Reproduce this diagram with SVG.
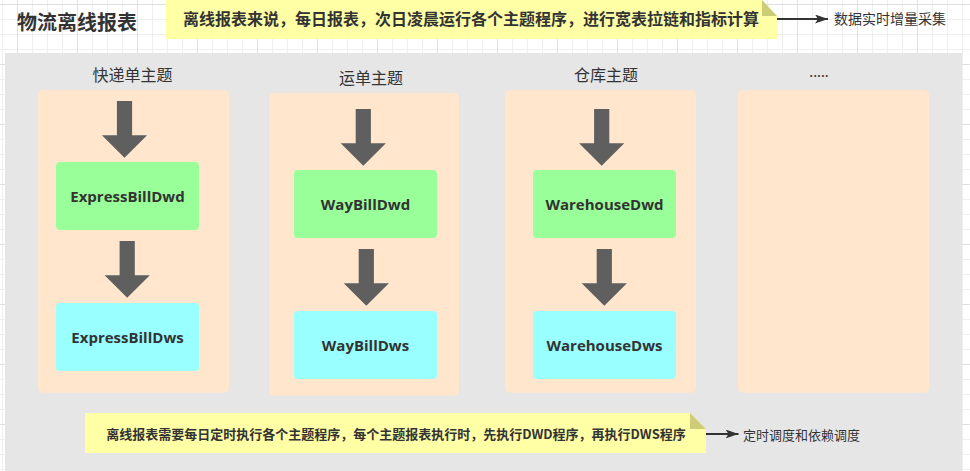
<svg xmlns="http://www.w3.org/2000/svg" width="970" height="471" viewBox="0 0 970 471">
<defs>
<pattern id="gMinor" patternUnits="userSpaceOnUse" x="2" y="4" width="15" height="15">
<path d="M0.5,0 V15 M0,0.5 H15" fill="none" stroke="#efefef" stroke-width="1"/>
</pattern>
<pattern id="gMajor" patternUnits="userSpaceOnUse" x="17" y="4" width="60" height="60">
<path d="M0.5,0 V60 M0,0.5 H60" fill="none" stroke="#e0e0e0" stroke-width="1"/>
</pattern>
<path id="blk" d="M-7.6,0 H7.6 V34.3 H22.6 L0,56.7 L-22.6,34.3 H-7.6 Z"/>
<marker id="ah" viewBox="0 0 13 9" refX="13" refY="4.5" markerWidth="13" markerHeight="9" markerUnits="userSpaceOnUse" orient="auto">
<path d="M0,0 L13,4.5 L0,9 L3,4.5 Z" fill="#333333"/>
</marker>
</defs>
<style>
.cjk{font-family:"Noto Sans CJK SC","Noto Sans",sans-serif;fill:#333333}
.lat{font-family:"Open Sans","Noto Sans CJK SC",sans-serif;font-weight:bold;font-size:15px;fill:#333333;text-anchor:middle}
.hdr{font-size:16px;text-anchor:middle}
.col{fill:#FFE6CC}
.dwd{fill:#99FF99}
.dws{fill:#99FFFF}
.note{fill:#FFFFA6}
.fold{fill:#CDCD78}
.barrow{fill:#5f5f5f}
.link{stroke:#333333;stroke-width:2;fill:none}
</style>
<rect x="0" y="0" width="970" height="471" fill="#ffffff"/>
<rect x="0" y="0" width="970" height="471" fill="url(#gMinor)"/>
<rect x="0" y="0" width="970" height="471" fill="url(#gMajor)"/>

<g id="panel">
<rect x="5" y="53" width="957" height="420" fill="#E6E6E6"/>
</g>

<g id="title">
<text class="cjk" x="17" y="30" font-size="20" font-weight="bold">物流离线报表</text>
</g>

<g id="note-top">
<path class="note" d="M166,0 H762 L777,16 V39 H166 Z"/>
<path class="fold" d="M762,0 V16 H777 Z"/>
<text class="cjk" x="471" y="24.5" font-size="16" font-weight="bold" text-anchor="middle">离线报表来说，每日报表，次日凌晨运行各个主题程序，进行宽表拉链和指标计算</text>
</g>
<g id="label-top">
<text class="cjk" x="834" y="24" font-size="14">数据实时增量采集</text>
</g>

<g id="col-express">
<rect class="col" x="38" y="90" width="191" height="302.7" rx="5"/>
<text class="cjk hdr" x="132.5" y="80.5">快递单主题</text>
</g>
<g id="col-waybill">
<rect class="col" x="269" y="93" width="190" height="302.7" rx="5"/>
<text class="cjk hdr" x="371" y="83.5">运单主题</text>
</g>
<g id="col-warehouse">
<rect class="col" x="505" y="90" width="191" height="302.7" rx="5"/>
<text class="cjk hdr" x="606" y="80.5">仓库主题</text>
</g>
<g id="col-more">
<rect class="col" x="738" y="90" width="191" height="302.7" rx="5"/>
<text class="cjk" x="819" y="77" font-size="14" text-anchor="middle" font-family="Liberation Sans">.....</text>
</g>

<g id="ExpressBillDwd">
<rect class="dwd" x="56" y="162" width="143" height="68" rx="4"/>
<text class="lat" x="127.5" y="201.5">ExpressBillDwd</text>
</g>
<g id="ExpressBillDws">
<rect class="dws" x="56" y="303" width="143" height="68" rx="4"/>
<text class="lat" x="127.5" y="342.5">ExpressBillDws</text>
</g>
<g id="WayBillDwd">
<rect class="dwd" x="294" y="170" width="143" height="68" rx="4"/>
<text class="lat" x="365.5" y="210">WayBillDwd</text>
</g>
<g id="WayBillDws">
<rect class="dws" x="294" y="311" width="143" height="68" rx="4"/>
<text class="lat" x="365.5" y="351">WayBillDws</text>
</g>
<g id="WarehouseDwd">
<rect class="dwd" x="533" y="170" width="143" height="68" rx="4"/>
<text class="lat" x="604.5" y="210">WarehouseDwd</text>
</g>
<g id="WarehouseDws">
<rect class="dws" x="533" y="311" width="143" height="68" rx="4"/>
<text class="lat" x="604.5" y="351">WarehouseDws</text>
</g>

<g id="note-bottom">
<path class="note" d="M85,413 H690 L706,429 V453 H85 Z"/>
<path class="fold" d="M690,413 V429 H706 Z"/>
<text class="cjk" x="396" y="439" font-size="13" font-weight="bold" text-anchor="middle">离线报表需要每日定时执行各个主题程序，每个主题报表执行时，先执行DWD程序，再执行DWS程序</text>
</g>
<g id="label-bottom">
<text class="cjk" x="743" y="439.5" font-size="13">定时调度和依赖调度</text>
</g>

<g id="connectors">
<use href="#blk" class="barrow" x="124.5" y="101"/>
<use href="#blk" class="barrow" x="127.2" y="241"/>
<use href="#blk" class="barrow" x="363.3" y="109"/>
<use href="#blk" class="barrow" x="366.3" y="249"/>
<use href="#blk" class="barrow" x="601.7" y="109"/>
<use href="#blk" class="barrow" x="604.3" y="249"/>
<path class="link" d="M777,19 H828" marker-end="url(#ah)"/>
<path class="link" d="M706,434 H738.5" marker-end="url(#ah)"/>
</g>
</svg>
